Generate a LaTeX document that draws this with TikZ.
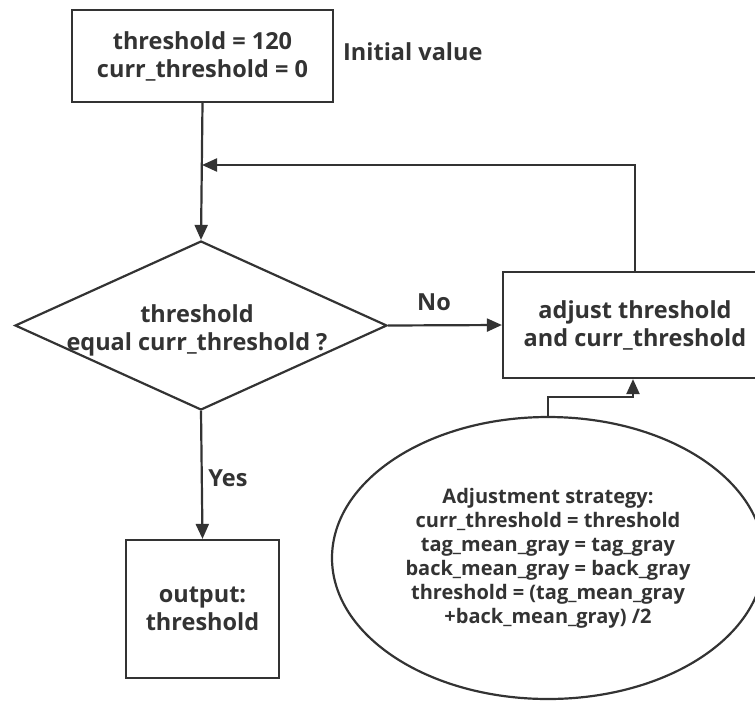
\documentclass[tikz,border=0pt]{standalone}
\usepackage{fontspec}
\setmainfont{Open Sans}
\usetikzlibrary{shapes.geometric,arrows.meta}
\definecolor{ink}{HTML}{333333}
\tikzset{
  base/.style={draw=ink, line width=2.2pt, text=ink, font=\bfseries\fontsize{23.5}{28}\selectfont, align=center, inner sep=0pt},
  boxnode/.style={base, rectangle},
  lbl/.style={text=ink, font=\bfseries\fontsize{23.5}{28}\selectfont, inner sep=0pt},
  conn/.style={draw=ink, line width=2.2pt},
  arr/.style={conn, -{Triangle[length=15pt,width=13pt]}},
}
\begin{document}
\begin{tikzpicture}[x=1pt,y=-1pt]
\useasboundingbox (0,0) rectangle (755,702);
\clip (0,0) rectangle (755,702);
\node[boxnode, minimum width=261pt, minimum height=92pt] (init) at (202.5,56) {threshold = 120\\curr\_threshold = 0};
\node[lbl, anchor=west] (iv) at (343,52) {Initial value};
\node[base, shape=diamond, minimum width=372pt, minimum height=169pt] (dec) at (201,325.5) {};
\node[lbl, align=center] (dect) at (197,330) {threshold\\equal curr\_threshold ?};
\node[boxnode, minimum width=264pt, minimum height=106pt] (adj) at (635,325) {adjust threshold\\and curr\_threshold};
\node[boxnode, minimum width=153pt, minimum height=138pt] (out) at (202.5,609) {output:\\threshold};
\node[base, shape=ellipse, minimum width=432pt, minimum height=282pt, font=\bfseries\fontsize{20}{24}\selectfont] (ell) at (548,558) {Adjustment strategy:\\curr\_threshold = threshold\\tag\_mean\_gray = tag\_gray\\back\_mean\_gray = back\_gray\\threshold = (tag\_mean\_gray\\+back\_mean\_gray) /2};
\coordinate (join) at (202,165);
\draw[arr] (init.south) -- (dec.north);
\draw[arr] (adj.north) |- (join);
\draw[arr] (dec.east) -- (adj.west);
\draw[arr] (dec.south) -- (out.north);
\draw[arr] (ell.north) -- ++(0,-19) -| ([xshift=-2pt]adj.south);
\node[lbl] (no) at (434,302) {No};
\node[lbl] (yes) at (228,478) {Yes};
\end{tikzpicture}
\end{document}
